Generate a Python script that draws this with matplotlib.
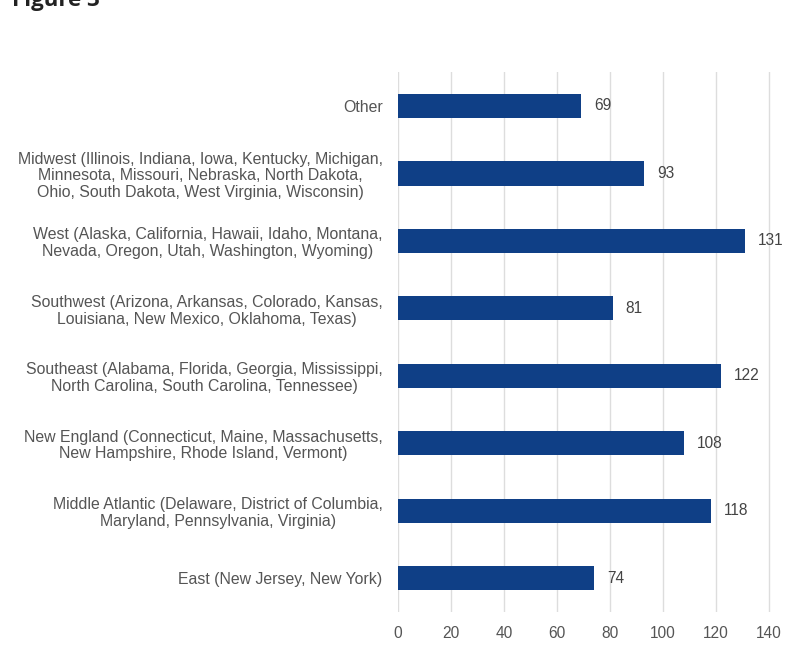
import matplotlib.pyplot as plt

regions = [
    "East (New Jersey, New York)",
    "Middle Atlantic (Delaware, District of Columbia,\nMaryland, Pennsylvania, Virginia)",
    "New England (Connecticut, Maine, Massachusetts,\nNew Hampshire, Rhode Island, Vermont)",
    "Southeast (Alabama, Florida, Georgia, Mississippi,\nNorth Carolina, South Carolina, Tennessee)",
    "Southwest (Arizona, Arkansas, Colorado, Kansas,\nLouisiana, New Mexico, Oklahoma, Texas)",
    "West (Alaska, California, Hawaii, Idaho, Montana,\nNevada, Oregon, Utah, Washington, Wyoming)",
    "Midwest (Illinois, Indiana, Iowa, Kentucky, Michigan,\nMinnesota, Missouri, Nebraska, North Dakota,\nOhio, South Dakota, West Virginia, Wisconsin)",
    "Other",
]
counts = [74, 118, 108, 122, 81, 131, 93, 69]
x_ticks = [0, 20, 40, 60, 80, 100, 120, 140]

plt.rcParams['font.family'] = ['Liberation Sans', 'DejaVu Sans']

fig = plt.figure(figsize=(8, 6.5), dpi=100)
ax = fig.add_axes([0.4975, 0.0585, 0.49, 0.8305])

bar_color = '#0f3f86'
text_color = '#444444'

ax.barh(range(len(regions)), counts, height=0.36, color=bar_color, zorder=3)
for i, v in enumerate(counts):
    ax.annotate(str(v), (v, i), xytext=(9.5, 0), textcoords='offset points',
                va='center', ha='left', fontsize=11.2, color=text_color)

ax.set_xlim(0, 148)
ax.set_ylim(-0.5, len(regions) - 0.5)
ax.set_xticks(x_ticks)
ax.set_yticks(range(len(regions)))
ax.set_yticklabels(regions, fontsize=11.4, color='#555555', multialignment='center',
                   linespacing=1.14)
ax.tick_params(axis='y', length=0, pad=11)
ax.tick_params(axis='x', length=0, pad=10, labelsize=11.2, labelcolor='#555555')
ax.grid(axis='x', color='#dddddd', linewidth=1, zorder=0)
for s in ax.spines.values():
    s.set_visible(False)

fig.text(0.015, 1 - 6 / 650, "Figure 3", fontsize=16, fontweight='bold',
         family=['Open Sans', 'DejaVu Sans'], color='#222222', va='baseline')

fig.savefig('out.png', dpi=100)
